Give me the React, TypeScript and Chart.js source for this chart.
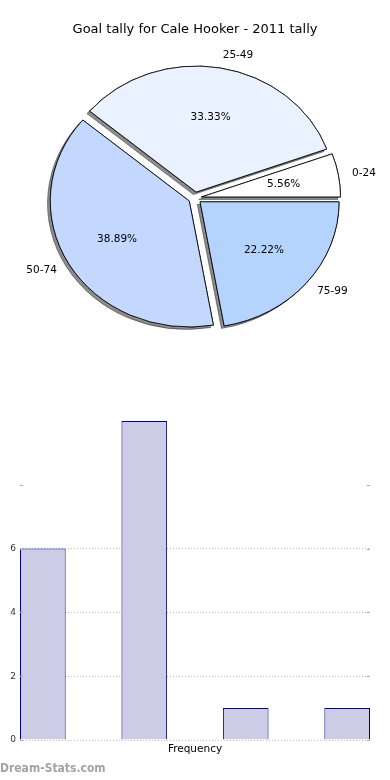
import React, { useEffect, useRef } from 'react';
import { Chart, registerables } from 'chart.js';

Chart.register(...registerables);

// ---- data ----
const pieTitle = 'Goal tally for Cale Hooker - 2011 tally';
const goalBands = ['0-24', '25-49', '50-74', '75-99'];
const bandCounts = [1, 6, 7, 4];
const bandColors = ['#ffffff', '#eaf1ff', '#c4d8ff', '#b4d4ff'];

const barPositions = [0, 1, 2, 3];
const barCounts = [6, 10, 1, 1];
const yTicksShown = [0, 2, 4, 6];
const yTickMarks = [0, 2, 4, 6, 8];
const xAxisTitle = 'Frequency';
const watermark = 'Dream-Stats.com';

const FONT = '"DejaVu Sans", sans-serif';
const EXPLODE = 6;
const SX = 1.103;

function PieChart() {
  const ref = useRef<HTMLCanvasElement | null>(null);
  useEffect(() => {
    if (!ref.current) return;
    const total = bandCounts.reduce((a, b) => a + b, 0);
    const order = [3, 2, 1, 0]; // clockwise from 3 o'clock
    const piePlugin = {
      id: 'piePlugin',
      beforeDatasetDraw(chart: any, args: any) {
        const ctx = chart.ctx;
        const els = args.meta.data;
        if (!els.length) return false;
        const cx = els[0].x;
        const cy = els[0].y;
        ctx.save();
        ctx.translate(cx, cy);
        ctx.scale(SX, 1);
        ctx.translate(-cx, -cy);
        for (const pass of [0, 1]) {
          for (const el of els) {
            const mid = (el.startAngle + el.endAngle) / 2;
            ctx.save();
            if (pass === 0) {
              ctx.shadowColor = 'rgba(0,0,0,0.45)';
              ctx.shadowOffsetX = -2.8;
              ctx.shadowOffsetY = 2.5;
              ctx.shadowBlur = 0;
            }
            ctx.translate(Math.cos(mid) * EXPLODE, Math.sin(mid) * EXPLODE);
            el.draw(ctx);
            ctx.restore();
          }
        }
        ctx.restore();
        return false;
      },
      afterDraw(chart: any) {
        const ctx = chart.ctx;
        const meta = chart.getDatasetMeta(0);
        ctx.save();
        ctx.fillStyle = '#000';
        ctx.font = `13px ${FONT}`;
        ctx.textAlign = 'center';
        ctx.textBaseline = 'middle';
        ctx.fillText(pieTitle, chart.width / 2, 30);
        ctx.font = `10.5px ${FONT}`;
        meta.data.forEach((el: any, k: number) => {
          const idx = order[k];
          const mid = (el.startAngle + el.endAngle) / 2;
          const r = el.outerRadius;
          const cx = el.x;
          const cy = el.y;
          const pct = ((bandCounts[idx] / total) * 100).toFixed(2) + '%';
          const dIn = 0.6 * r + EXPLODE;
          ctx.textAlign = 'center';
          ctx.fillText(pct, cx + SX * Math.cos(mid) * dIn, cy + Math.sin(mid) * dIn);
          const dOut = 1.1 * r + EXPLODE;
          ctx.textAlign = Math.cos(mid) > 0 ? 'left' : 'right';
          ctx.fillText(goalBands[idx], cx + SX * Math.cos(mid) * dOut, cy + Math.sin(mid) * dOut);
        });
        ctx.restore();
      },
    };
    const chart = new Chart(ref.current, {
      type: 'pie',
      data: {
        labels: order.map((i) => goalBands[i]),
        datasets: [
          {
            data: order.map((i) => bandCounts[i]),
            backgroundColor: order.map((i) => bandColors[i]),
            borderColor: '#000',
            borderWidth: 0.8,
            offset: 0,
          },
        ],
      },
      options: {
        responsive: false,
        animation: false,
        events: [],
        radius: 126,
        rotation: 90,
        layout: { padding: { top: 36, left: 0, right: 0, bottom: 0 } },
        plugins: { legend: { display: false }, tooltip: { enabled: false }, title: { display: false } },
      } as any,
      plugins: [piePlugin],
    });
    return () => chart.destroy();
  }, []);
  return <canvas ref={ref} width={390} height={360} style={{ display: 'block' }} />;
}

function BarChart() {
  const ref = useRef<HTMLCanvasElement | null>(null);
  useEffect(() => {
    if (!ref.current) return;
    const tickPlugin = {
      id: 'tickMarks',
      afterDraw(chart: any) {
        const ctx = chart.ctx;
        const y = chart.scales.y;
        const { left, right } = chart.chartArea;
        ctx.save();
        ctx.strokeStyle = '#aaa';
        ctx.lineWidth = 1;
        yTickMarks.forEach((v) => {
          const py = Math.round(y.getPixelForValue(v)) + 0.5;
          ctx.beginPath();
          ctx.moveTo(left, py);
          ctx.lineTo(left + 3, py);
          ctx.moveTo(right - 3, py);
          ctx.lineTo(right, py);
          ctx.stroke();
        });
        ctx.restore();
      },
    };
    const chart = new Chart(ref.current, {
      type: 'bar',
      data: {
        datasets: [
          {
            data: barPositions.map((x, i) => ({ x, y: barCounts[i] })),
            backgroundColor: '#ccccE6',
            borderColor: '#00008b',
            borderWidth: 1,
            barPercentage: 0.45,
            categoryPercentage: 1,
          },
        ],
      },
      options: {
        responsive: false,
        animation: false,
        events: [],
        layout: { padding: { top: 41, right: 20, left: 0, bottom: 0 } },
        plugins: { legend: { display: false }, tooltip: { enabled: false } },
        scales: {
          x: {
            type: 'linear',
            offset: false,
            min: -0.225,
            max: 3.225,
            ticks: { display: false, stepSize: 1, includeBounds: false },
            grid: { display: false },
            border: { display: false },
            title: {
              display: true,
              text: xAxisTitle,
              color: '#000',
              font: { family: FONT, size: 10.5 },
              padding: { top: 0, bottom: 24 },
            },
            afterFit: (s: any) => {
              s.height = 40;
            },
          },
          y: {
            min: 0,
            max: 10,
            ticks: {
              stepSize: 2,
              padding: 4,
              color: '#333',
              font: { family: FONT, size: 9 },
              callback: (v: any) => (yTicksShown.includes(v) ? String(v) : ''),
            },
            grid: {
              drawTicks: false,
              color: (c: any) =>
                c.tick && yTicksShown.includes(c.tick.value) ? 'rgba(0,0,0,0.25)' : 'rgba(0,0,0,0)',
            },
            border: { display: false, dash: [1, 2] },
            afterFit: (s: any) => {
              s.width = 20;
            },
          },
        },
      } as any,
      plugins: [tickPlugin],
    });
    return () => chart.destroy();
  }, []);
  return <canvas ref={ref} width={390} height={400} style={{ display: 'block' }} />;
}

export default function App() {
  return (
    <div style={{ position: 'absolute', left: 0, top: 0, width: 390, height: 780, background: '#fff' }}>
      <div style={{ position: 'absolute', left: 0, top: 0 }}>
        <PieChart />
      </div>
      <div style={{ position: 'absolute', left: 0, top: 380 }}>
        <BarChart />
      </div>
      <div
        style={{
          position: 'absolute',
          left: 0,
          top: 761,
          font: `bold 12px "DejaVu Sans Condensed", "DejaVu Sans", sans-serif`,
          color: '#a3a3a3',
          whiteSpace: 'nowrap',
        }}
      >
        {watermark}
      </div>
    </div>
  );
}
